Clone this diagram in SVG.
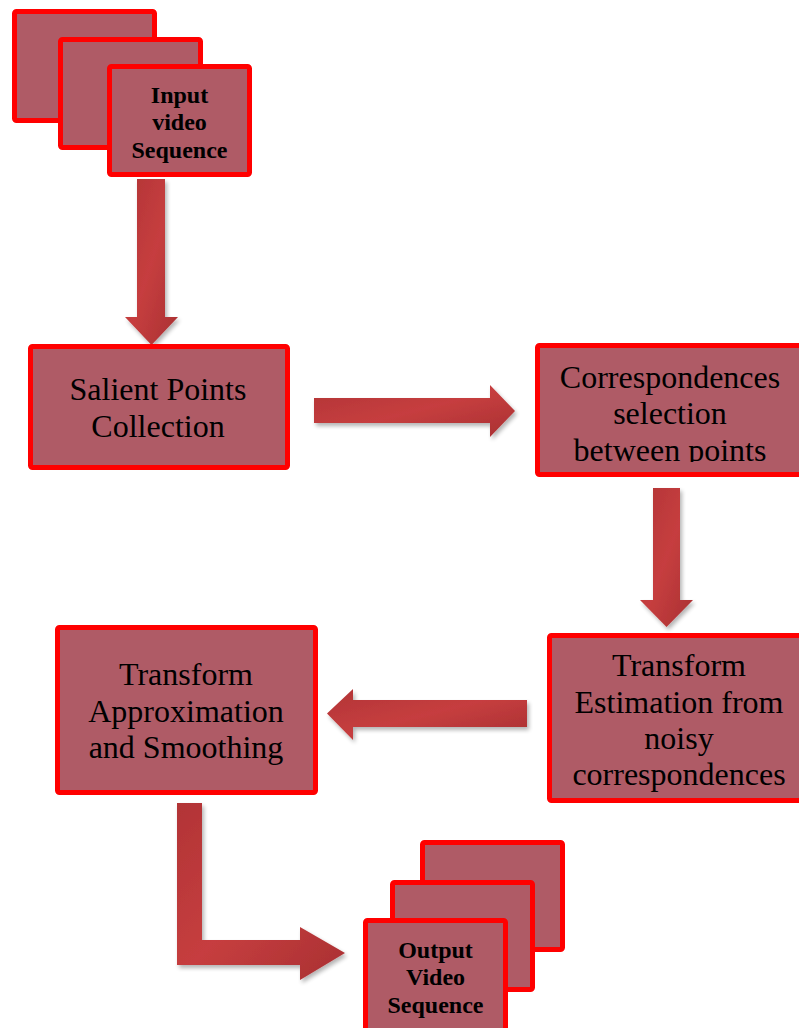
<svg xmlns="http://www.w3.org/2000/svg" width="799" height="1028" viewBox="0 0 799 1028">
<defs>
<style>
.box{fill:#AF5B66;stroke:#FF0000;stroke-width:5;}
.t{font-family:"Liberation Serif","Times New Roman",serif;font-size:32px;fill:#000;text-anchor:middle;}
.tb{font-family:"Liberation Serif","Times New Roman",serif;font-size:24px;font-weight:bold;fill:#000;text-anchor:middle;}
.arr{fill:url(#ag);filter:url(#sh);}
</style>
<linearGradient id="ag" x1="0" y1="0" x2="1" y2="1">
<stop offset="0" stop-color="#B23436"/>
<stop offset="0.5" stop-color="#C63E3F"/>
<stop offset="1" stop-color="#A93032"/>
</linearGradient>
<filter id="sh" x="-20%" y="-20%" width="140%" height="140%">
<feGaussianBlur in="SourceAlpha" stdDeviation="2"/>
<feOffset dx="2" dy="3" result="b"/>
<feComponentTransfer><feFuncA type="linear" slope="0.3"/></feComponentTransfer>
<feMerge><feMergeNode/><feMergeNode in="SourceGraphic"/></feMerge>
</filter>
<clipPath id="cc"><rect x="537" y="345" width="270" height="117"/></clipPath>
</defs>
<rect width="799" height="1028" fill="#FFFFFF"/>
<g id="connectors">
<polygon class="arr" points="137,179 165,179 165,317 178,317 151.5,345 125,317 137,317"/>
<polygon class="arr" points="314,398 490,398 490,385 515,411 490,437 490,423 314,423"/>
<polygon class="arr" points="653,488 680,488 680,600 693,600 666.5,627 640,600 653,600"/>
<polygon class="arr" points="527,700 353,700 353,689 327,713.5 353,740 353,727 527,727"/>
<polygon class="arr" points="177,803 202,803 202,940 300,940 300,927 345,953 300,980 300,965 177,965"/>
</g>
<g id="input">
<rect class="box" x="14.5" y="11.5" width="140" height="109" rx="2"/>
<rect class="box" x="60.5" y="39.5" width="140" height="108" rx="2"/>
<rect class="box" x="109.5" y="66.5" width="140" height="108" rx="2"/>
<text class="tb" x="179.5" y="103">Input</text>
<text class="tb" x="179.5" y="130">video</text>
<text class="tb" x="179.5" y="158">Sequence</text>
</g>
<g id="salient">
<rect class="box" x="30.5" y="346.5" width="257" height="121" rx="2"/>
<text class="t" x="158" y="400">Salient Points</text>
<text class="t" x="158" y="437">Collection</text>
</g>
<g id="correspondences">
<rect class="box" x="537.5" y="345.5" width="265" height="129" rx="2"/>
<g clip-path="url(#cc)">
<text class="t" x="670" y="388">Correspondences</text>
<text class="t" x="670" y="424">selection</text>
<text class="t" x="670" y="461">between points</text>
</g>
</g>
<g id="estimation">
<rect class="box" x="549.5" y="635.5" width="260" height="165" rx="2"/>
<text class="t" x="679" y="676">Transform</text>
<text class="t" x="679" y="713">Estimation from</text>
<text class="t" x="679" y="749">noisy</text>
<text class="t" x="679" y="785">correspondences</text>
</g>
<g id="approximation">
<rect class="box" x="57.5" y="627.5" width="258" height="165" rx="2"/>
<text class="t" x="186" y="685">Transform</text>
<text class="t" x="186" y="722">Approximation</text>
<text class="t" x="186" y="758">and Smoothing</text>
</g>
<g id="output">
<rect class="box" x="422.5" y="842.5" width="140" height="107" rx="2"/>
<rect class="box" x="392.5" y="882.5" width="140" height="107" rx="2"/>
<rect class="box" x="365.5" y="920.5" width="140" height="120" rx="2"/>
<text class="tb" x="435.5" y="958">Output</text>
<text class="tb" x="435.5" y="985">Video</text>
<text class="tb" x="435.5" y="1013">Sequence</text>
</g>
</svg>
